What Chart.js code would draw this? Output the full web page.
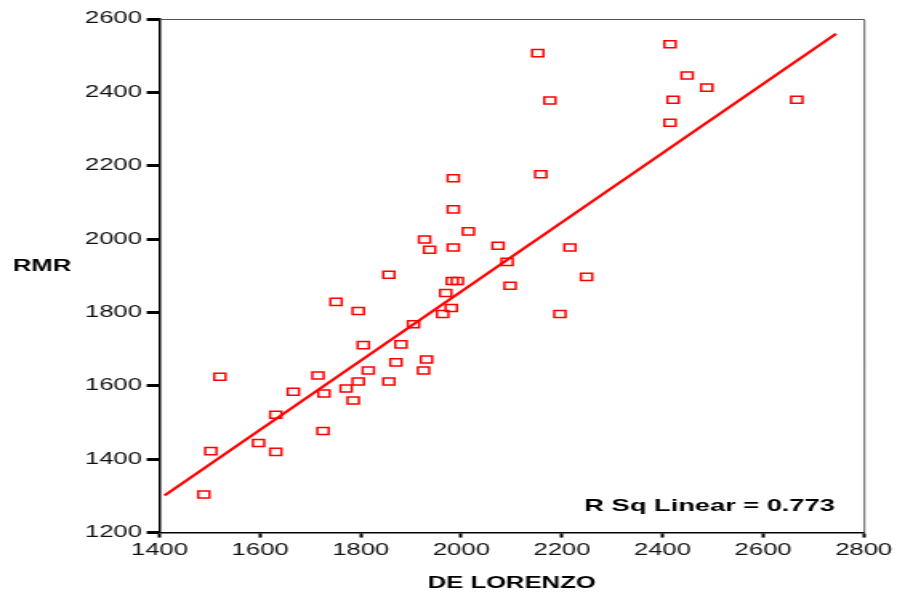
<!DOCTYPE html>
<html lang="en">
<head>
  <meta charset="UTF-8">
  <title>RMR vs DE LORENZO</title>
  <script src="https://cdn.jsdelivr.net/npm/chart.js"></script>
  <style>
    html, body {
      margin: 0;
      padding: 0;
      background: #fff;
      overflow: hidden;
    }
    /* the original picture is stretched sideways, so the chart is drawn narrow and widened */
    .chart-wrap {
      width: 560px;
      height: 595px;
      transform: scaleX(1.6018);
      transform-origin: 0 0;
    }
  </style>
</head>
<body>
  <div class="chart-wrap">
    <canvas id="scatterChart"></canvas>
  </div>

  <script>
    // Measured values (DE LORENZO estimate vs RMR)
    const deLorenzo = [1488, 1502, 1520, 1597, 1631, 1631, 1666, 1715, 1727, 1725,
                       1751, 1771, 1785, 1795, 1795, 1805, 1815, 1856, 1856, 1870,
                       1880, 1905, 1927, 1937, 1925, 1931, 1963, 1969, 1980, 1982,
                       1992, 1984, 1984, 1984, 2014, 2073, 2091, 2097, 2152, 2158,
                       2176, 2196, 2216, 2249, 2415, 2415, 2421, 2449, 2488, 2667];
    const rmr = [1304, 1422, 1625, 1444, 1420, 1521, 1584, 1628, 1579, 1477,
                 1829, 1593, 1560, 1804, 1612, 1711, 1642, 1903, 1612, 1664,
                 1713, 1768, 1999, 1971, 1642, 1672, 1796, 1853, 1812, 1886,
                 1886, 1977, 2081, 2166, 2021, 1982, 1938, 1873, 2507, 2177,
                 2378, 1796, 1977, 1897, 2531, 2317, 2380, 2446, 2413, 2380];

    // Linear fit line ends as drawn in the original
    const fitX = [1410, 2745];
    const fitY = [1301, 2560];

    const xTicks = [1400, 1600, 1800, 2000, 2200, 2400, 2600, 2800];
    const yTicks = [1200, 1400, 1600, 1800, 2000, 2200, 2400, 2600];
    const rSquared = 0.773;

    const FONT = "'Liberation Sans', Arial, sans-serif";

    // Top and right frame plus free-standing labels
    const decorations = {
      id: 'decorations',
      beforeDatasetsDraw(chart) {
        const { ctx, chartArea } = chart;
        ctx.save();
        ctx.strokeStyle = '#555';
        ctx.lineWidth = 1;
        ctx.beginPath();
        ctx.moveTo(chartArea.left, chartArea.top + 0.5);
        ctx.lineTo(chartArea.right + 0.5, chartArea.top + 0.5);
        ctx.lineTo(chartArea.right + 0.5, chartArea.bottom);
        ctx.stroke();
        ctx.restore();
      },
      afterDraw(chart) {
        const { ctx, chartArea } = chart;
        ctx.save();
        ctx.fillStyle = '#000';
        ctx.textBaseline = 'alphabetic';
        ctx.font = 'bold 16px ' + FONT;
        ctx.textAlign = 'left';
        ctx.fillText('RMR', 8, 270.5);
        ctx.font = 'bold 17px ' + FONT;
        ctx.textAlign = 'right';
        ctx.fillText('R Sq Linear = ' + rSquared.toFixed(3), chartArea.right - 18, chartArea.bottom - 22);
        ctx.restore();
      }
    };

    const ctx = document.getElementById('scatterChart').getContext('2d');

    new Chart(ctx, {
      type: 'scatter',
      data: {
        datasets: [
          {
            label: 'RMR',
            data: deLorenzo.map((x, i) => ({ x: x, y: rmr[i] })),
            pointStyle: 'rect',
            pointRadius: 5,
            pointBorderWidth: 1.5,
            pointBorderColor: '#ff0000',
            pointBackgroundColor: 'rgba(255,255,255,0)',
            order: 2
          },
          {
            label: 'Linear fit',
            type: 'line',
            data: fitX.map((x, i) => ({ x: x, y: fitY[i] })),
            borderColor: '#ff0000',
            borderWidth: 2.2,
            pointRadius: 0,
            fill: false,
            order: 1
          }
        ]
      },
      options: {
        responsive: true,
        maintainAspectRatio: false,
        animation: false,
        layout: {
          padding: { left: 50, right: 15, top: 19, bottom: 2 }
        },
        plugins: {
          legend: { display: false },
          tooltip: { enabled: false }
        },
        scales: {
          x: {
            type: 'linear',
            min: xTicks[0],
            max: xTicks[xTicks.length - 1],
            afterBuildTicks: (axis) => { axis.ticks = xTicks.map(v => ({ value: v })); },
            ticks: {
              color: '#111',
              font: { family: FONT, size: 16 },
              padding: 3,
              maxRotation: 0,
              callback: (v) => String(v)
            },
            grid: {
              drawOnChartArea: false,
              tickLength: 5,
              tickWidth: 2,
              tickColor: '#000'
            },
            border: { color: '#000', width: 1.5 },
            title: {
              display: true,
              text: 'DE LORENZO',
              color: '#000',
              font: { family: FONT, size: 16, weight: 'bold' },
              padding: { top: 11, bottom: 0 }
            }
          },
          y: {
            type: 'linear',
            min: yTicks[0],
            max: yTicks[yTicks.length - 1],
            afterBuildTicks: (axis) => { axis.ticks = yTicks.map(v => ({ value: v })); },
            ticks: {
              color: '#111',
              font: { family: FONT, size: 16 },
              padding: 3,
              callback: (v) => String(v)
            },
            grid: {
              drawOnChartArea: false,
              tickLength: 8,
              tickWidth: 3,
              tickColor: '#000'
            },
            border: { color: '#000', width: 1.5 }
          }
        }
      },
      plugins: [decorations]
    });
  </script>
</body>
</html>
